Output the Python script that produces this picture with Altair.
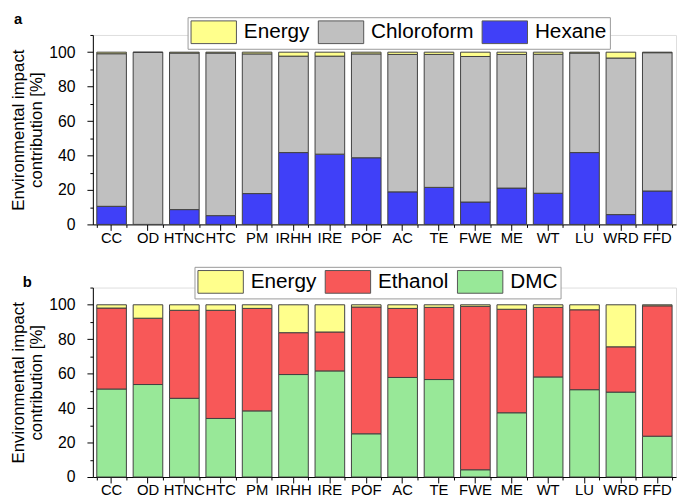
import altair as alt
import pandas as pd

cats = ["CC", "OD", "HTNC", "HTC", "PM", "IRHH", "IRE", "POF", "AC", "TE",
        "FWE", "ME", "WT", "LU", "WRD", "FFD"]

# Panel a
hexane = [10.5, 0.0, 8.6, 5.1, 17.9, 41.7, 40.8, 38.7, 18.9, 21.5, 13.0, 21.1, 18.1, 41.7, 5.7, 19.4]
chloroform = [88.6, 99.9, 90.9, 94.4, 81.1, 56.0, 56.9, 60.3, 79.8, 77.2, 84.5, 77.6, 80.7, 57.8, 90.9, 80.3]
energy_a = [0.9, 0.1, 0.5, 0.5, 1.0, 2.3, 2.3, 1.0, 1.3, 1.3, 2.5, 1.3, 1.2, 0.5, 3.4, 0.3]

# Panel b
dmc = [51.1, 53.7, 45.7, 34.0, 38.4, 59.5, 61.6, 25.1, 57.8, 56.6, 4.2, 37.3, 58.1, 50.7, 49.3, 23.7]
ethanol = [47.0, 38.5, 51.1, 62.8, 59.5, 24.3, 22.6, 73.6, 40.1, 41.9, 94.9, 60.1, 40.4, 46.4, 26.3, 75.7]
energy_b = [1.9, 7.8, 3.2, 3.2, 2.1, 16.2, 15.8, 1.3, 2.1, 1.5, 0.9, 2.6, 1.5, 2.9, 24.4, 0.6]

names_a = ["Hexane", "Chloroform", "Energy"]
names_b = ["DMC", "Ethanol", "Energy"]
legend_a = ["Energy", "Chloroform", "Hexane"]
legend_b = ["Energy", "Ethanol", "DMC"]
colors_a = ["#FFFF8C", "#C0C0C0", "#4040F8"]
colors_b = ["#FFFF8C", "#F85858", "#98E898"]

y_ticks = [0, 20, 40, 60, 80, 100]
y_minor = [10, 30, 50, 70, 90, 110]

NARROW = "Liberation Sans Narrow, Liberation Sans, Arial"


def make_df(names, series):
    rows = []
    for k, (name, vals) in enumerate(zip(names, series)):
        for c, v in zip(cats, vals):
            rows.append({"cat": c, "series": name, "value": v, "ord": k})
    return pd.DataFrame(rows)


xscale = alt.Scale(paddingInner=0.186, paddingOuter=0.108)
yscale = alt.Scale(domain=[0, 110], nice=False)


def panel(df, legend_order, colors, letter, lx, ly, tx, ty):
    bars = alt.Chart(df).mark_bar(stroke="#404040", strokeWidth=1).encode(
        x=alt.X("cat:N", sort=cats, title=None, scale=xscale,
                axis=alt.Axis(orient="bottom", labelAngle=0, labelFontSize=15,
                              tickSize=6, labelPadding=0, domainColor="black",
                              tickColor="black", labelColor="black")),
        y=alt.Y("value:Q", stack="zero", scale=yscale,
                axis=alt.Axis(orient="left", values=y_ticks, grid=False,
                              title=["Environmental impact", "contribution [%]"],
                              titleFontSize=17, titleFontWeight="normal",
                              titleColor="black", titlePadding=3,
                              labelFontSize=16, labelFont=NARROW,
                              labelColor="black",
                              tickSize=6, tickColor="black",
                              domainColor="black", labelPadding=12)),
        color=alt.Color("series:N",
                        scale=alt.Scale(domain=legend_order, range=colors),
                        legend=alt.Legend(
                            orient="none", legendX=lx, legendY=ly,
                            direction="horizontal", title=None,
                            symbolType="M-1,-1H3V1H-1Z", symbolSize=529,
                            symbolStrokeColor="#555555", symbolStrokeWidth=1,
                            symbolOpacity=1, labelFontSize=21,
                            labelColor="black", labelOffset=30,
                            strokeColor="#999999", fillColor="white",
                            padding=3, columnPadding=6)),
        order=alt.Order("ord:Q"),
    )
    minor = alt.Chart(df).mark_point(opacity=0).encode(
        x=alt.X("cat:N", sort=cats, title=None, scale=xscale,
                axis=alt.Axis(orient="bottom", tickBand="extent", labels=False,
                              domain=False, tickSize=3, tickColor="black",
                              title=None)),
        y=alt.Y("value:Q", scale=yscale,
                axis=alt.Axis(orient="left", values=y_minor, labels=False,
                              domain=False, grid=False, tickSize=3,
                              tickColor="black", title=None)),
    )
    tag = alt.Chart(pd.DataFrame({"label": [letter]})).mark_text(
        align="left", baseline="alphabetic", fontSize=15, fontWeight="bold",
        color="black").encode(text="label:N", x=alt.value(tx), y=alt.value(ty))
    return alt.layer(bars, minor, tag).resolve_axis(x="independent", y="independent").properties(
        width=591, height=192)


a = panel(make_df(names_a, [hexane, chloroform, energy_a]), legend_a, colors_a,
          "a", 96, -18, -80, -11)
b = panel(make_df(names_b, [dmc, ethanol, energy_b]), legend_b, colors_b,
          "b", 103, -21, -71, -1)

chart = alt.vconcat(a, b, spacing=20).resolve_scale(color="independent").resolve_legend(
    color="independent").configure_view(stroke=None).configure(
    font="Liberation Sans", padding={"left": 0, "top": 0, "right": 0, "bottom": 0})

chart.save("out.html", embed_options={"renderer": "svg", "actions": False})
